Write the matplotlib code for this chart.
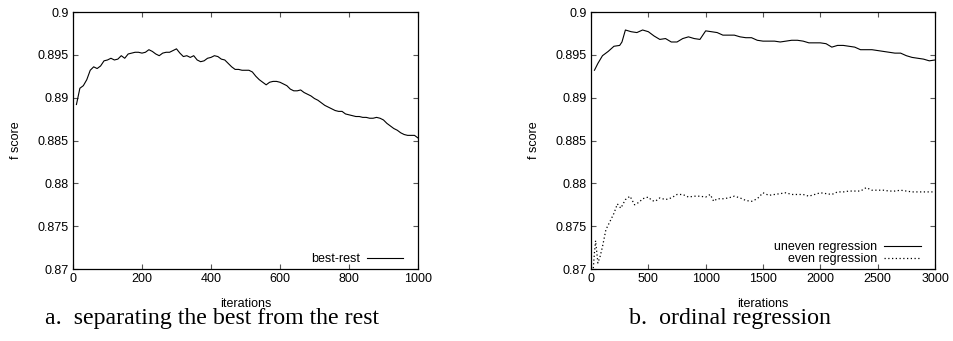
import matplotlib
matplotlib.use("Agg")
import matplotlib.pyplot as plt

# a. best-rest, sampled every 10 iterations
best_x = list(range(10, 1001, 10))
best_rest = [
    0.8892, 0.8911, 0.8914, 0.8921, 0.8932, 0.8936, 0.8934, 0.8937, 0.8943, 0.8944,
    0.8946, 0.8944, 0.8945, 0.8949, 0.8946, 0.8951, 0.8952, 0.8953, 0.8953, 0.8952,
    0.8953, 0.8956, 0.8954, 0.8951, 0.8949, 0.8952, 0.8953, 0.8953, 0.8955, 0.8957,
    0.8952, 0.8948, 0.8949, 0.8947, 0.8949, 0.8944, 0.8942, 0.8943, 0.8946, 0.8947,
    0.8949, 0.8948, 0.8945, 0.8944, 0.8940, 0.8936, 0.8933, 0.8933, 0.8932, 0.8932,
    0.8932, 0.8930, 0.8925, 0.8921, 0.8918, 0.8915, 0.8918, 0.8919, 0.8919, 0.8918,
    0.8916, 0.8914, 0.8910, 0.8908, 0.8908, 0.8909, 0.8906, 0.8904, 0.8902, 0.8899,
    0.8897, 0.8894, 0.8891, 0.8889, 0.8887, 0.8885, 0.8884, 0.8884, 0.8881, 0.8880,
    0.8879, 0.8878, 0.8878, 0.8877, 0.8877, 0.8876, 0.8876, 0.8877, 0.8876, 0.8874,
    0.8870, 0.8867, 0.8864, 0.8862, 0.8859, 0.8857, 0.8856, 0.8856, 0.8856, 0.8853,
]

# b. ordinal regression
uneven_x = [30, 60, 100, 150, 200, 250, 270] + list(range(300, 3001, 50))
uneven = [
    0.8932, 0.8940, 0.8949, 0.8954, 0.8960, 0.8961, 0.8965,
    0.8979, 0.8977, 0.8976, 0.8979, 0.8977, 0.8972, 0.8968, 0.8969, 0.8965, 0.8965,
    0.8969, 0.8971, 0.8969, 0.8968, 0.8978, 0.8977, 0.8976, 0.8973, 0.8973, 0.8973,
    0.8971, 0.8970, 0.8970, 0.8967, 0.8966, 0.8966, 0.8966, 0.8965, 0.8966, 0.8967,
    0.8967, 0.8966, 0.8964, 0.8964, 0.8964, 0.8963, 0.8959, 0.8961, 0.8961, 0.8960,
    0.8959, 0.8956, 0.8956, 0.8956, 0.8955, 0.8954, 0.8953, 0.8952, 0.8952, 0.8949,
    0.8947, 0.8946, 0.8945, 0.8943, 0.8944,
]

even_x = [20, 30, 40, 60, 80, 100, 130, 160, 200, 230, 260, 300, 340, 380, 420, 450,
          500, 530, 560, 600, 650, 700, 750, 800, 850, 900, 950, 1000, 1040, 1070,
          1100, 1150, 1200, 1250, 1300, 1350, 1400, 1450, 1500, 1550, 1600, 1650,
          1700, 1750, 1800, 1850, 1900, 1950, 2000, 2050, 2100, 2150, 2200, 2250,
          2300, 2350, 2400, 2450, 2500, 2550, 2600, 2650, 2700, 2750, 2800, 2850,
          2900, 2950, 3000]
even = [
    0.8701, 0.8719, 0.8733, 0.8707, 0.8715, 0.8726, 0.8746, 0.8754, 0.8765, 0.8776,
    0.8771, 0.8781, 0.8785, 0.8775, 0.8778, 0.8782, 0.8784, 0.8780, 0.8779, 0.8783,
    0.8781, 0.8783, 0.8787, 0.8787, 0.8784, 0.8785, 0.8785, 0.8784, 0.8787, 0.8779,
    0.8782, 0.8782, 0.8783, 0.8785, 0.8783, 0.8780, 0.8779, 0.8782, 0.8789, 0.8786,
    0.8787, 0.8788, 0.8789, 0.8787, 0.8787, 0.8787, 0.8785, 0.8787, 0.8789, 0.8788,
    0.8787, 0.8790, 0.8790, 0.8791, 0.8791, 0.8791, 0.8795, 0.8792, 0.8792, 0.8792,
    0.8791, 0.8791, 0.8792, 0.8791, 0.8790, 0.8790, 0.8790, 0.8790, 0.8790,
]

y_ticks = [0.87, 0.875, 0.88, 0.885, 0.89, 0.895, 0.9]
y_labels = ["0.87", "0.875", "0.88", "0.885", "0.89", "0.895", "0.9"]

plt.rcParams["font.family"] = ["Liberation Sans", "DejaVu Sans"]
plt.rcParams["font.size"] = 9

fig = plt.figure(figsize=(9.54, 3.41), dpi=100)
ax1 = fig.add_axes([0.0765, 0.2111, 0.3616, 0.7537])
ax2 = fig.add_axes([0.6195, 0.2111, 0.3606, 0.7537])


def style(ax, xmax, xticks):
    ax.set_xlim(0, xmax)
    ax.set_ylim(0.87, 0.9)
    ax.set_xticks(xticks)
    ax.set_yticks(y_ticks)
    ax.set_yticklabels(y_labels)
    ax.tick_params(direction="in", top=True, right=True, length=3.4,
                   width=0.8, color="#555555", labelsize=9, pad=3)
    for sp in ax.spines.values():
        sp.set_linewidth(0.9)
    ax.set_xlabel("iterations", fontsize=9, labelpad=9)
    ax.set_ylabel("f score", fontsize=9, labelpad=11)


ax1.plot(best_x, best_rest, color="black", lw=0.8, label="best-rest")
style(ax1, 1000, [0, 200, 400, 600, 800, 1000])
ax1.legend(loc="lower right", bbox_to_anchor=(0.958, 0.015), frameon=False,
           markerfirst=False, fontsize=9, handlelength=2.9, handletextpad=0.6,
           borderaxespad=0, borderpad=0)

ax2.plot(uneven_x, uneven, color="black", lw=0.8, label="uneven regression")
ax2.plot(even_x, even, color="black", lw=0.9, linestyle=(0, (1, 2)),
         label="even regression")
style(ax2, 3000, [0, 500, 1000, 1500, 2000, 2500, 3000])
ax2.legend(loc="lower right", bbox_to_anchor=(0.958, 0.015), frameon=False,
           markerfirst=False, fontsize=9, handlelength=2.9, handletextpad=0.6,
           borderaxespad=0, borderpad=0, labelspacing=0.02)

serif = ["Liberation Serif", "DejaVu Serif"]
fig.text(0.222, 0.066, "a.  separating the best from the rest", ha="center",
         va="center", family=serif, fontsize=17.2)
fig.text(0.765, 0.066, "b.  ordinal regression", ha="center", va="center",
         family=serif, fontsize=17.2)

fig.savefig("out.png", dpi=100)
